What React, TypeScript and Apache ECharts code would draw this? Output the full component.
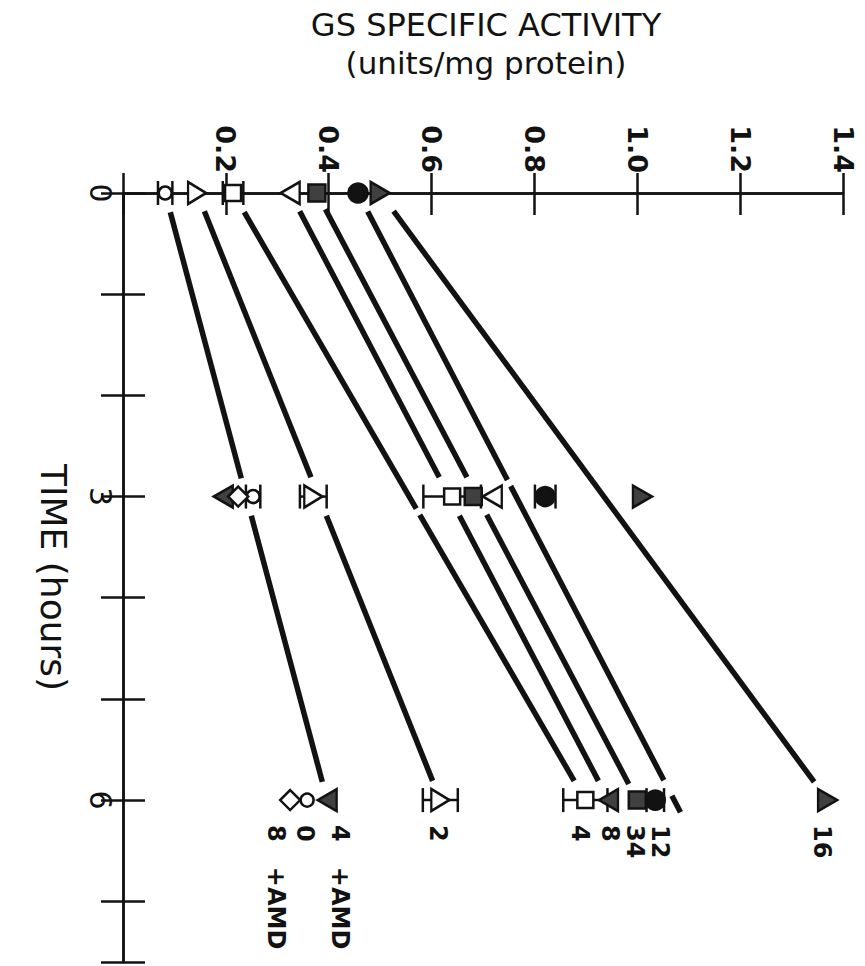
import { useEffect, useRef } from "react";
import * as echarts from "echarts";

// Sampling times (hours)
const hours = [0, 3, 6];

// Culture labels printed beside the 6 h points
const groupLabels = ["16", "12", "34", "8", "4", "2", "0", "4   +AMD", "8   +AMD"];

// GS specific activity (units/mg protein) at 0, 3 and 6 h
const gs16 = [0.5, 1.01, 1.37];
const gs12 = [0.457, 0.821, 1.035];
const gs34 = [0.377, 0.681, 1.0];
const gs8 = [0.325, 0.718, 0.944];
const gs4 = [0.214, 0.64, 0.899];
const gs2 = [0.144, 0.37, 0.617];
const gs0 = [0.082, 0.253, 0.358];
const gs4Amd = [null, 0.195, 0.397];
const gs8Amd = [null, 0.224, 0.325];

// Half-width of the error bars (0 = none drawn)
const sem12 = [0, 0.02, 0.017];
const sem4 = [0.02, 0.056, 0.043];
const sem2 = [0, 0.026, 0.034];
const sem0 = [0.014, 0.014, 0];

// Straight trend lines: activity at 0 h and at the end hour
const trendFrom = [0.5, 0.457, 0.377, 0.325, 0.214, 0.144, 0.082];
const trendTo = [1.37, 1.084, 1.0, 0.944, 0.899, 0.617, 0.397];
const trendToHour = [6, 6.12, 6, 6, 6, 6, 6];

const INK = "#121212";
const GREY = "#404040";
const FONT = "DejaVu Sans";

type Group = {
  values: (number | null)[];
  sem?: number[];
  symbol: string;
  rotate: number;
  size: number | number[];
  filled: boolean[];
  labelShift: number;
};

const groups: Group[] = [
  { values: gs16, symbol: "triangle", rotate: -90, size: [22, 19], filled: [true, true, true], labelShift: -6 },
  { values: gs12, sem: sem12, symbol: "circle", rotate: 0, size: 19, filled: [true, true, true], labelShift: 5 },
  { values: gs34, symbol: "rect", rotate: 0, size: 17, filled: [true, true, true], labelShift: -2 },
  { values: gs8, symbol: "triangle", rotate: 90, size: [22, 19], filled: [false, false, true], labelShift: 2 },
  { values: gs4, sem: sem4, symbol: "rect", rotate: 0, size: 16, filled: [false, false, false], labelShift: -5 },
  { values: gs2, sem: sem2, symbol: "triangle", rotate: -90, size: [22, 18], filled: [false, false, false], labelShift: -2 },
  { values: gs0, sem: sem0, symbol: "circle", rotate: 0, size: 13, filled: [false, false, false], labelShift: -2 },
  { values: gs4Amd, symbol: "triangle", rotate: 90, size: [22, 19], filled: [true, true, true], labelShift: 13 },
  { values: gs8Amd, symbol: "diamond", rotate: 0, size: 20, filled: [false, false, false], labelShift: -14 },
];

const CLEAR = 7; // white space left between a trend line and any symbol
const CAP = 12; // half height of the error-bar caps

function halfSize(g: Group) {
  return (Array.isArray(g.size) ? Math.max(...g.size) : g.size) / 2;
}

// Rectangles (in pixels) occupied by symbols and error bars
function obstacleBoxes(api: any) {
  const boxes: number[][] = [];
  groups.forEach((g) => {
    const r = halfSize(g);
    g.values.forEach((v, k) => {
      if (v == null) return;
      const c = api.coord([v, hours[k]]);
      boxes.push([c[0] - r, c[0] + r, c[1] - r, c[1] + r]);
      const e = g.sem ? g.sem[k] : 0;
      if (e > 0) {
        const a = api.coord([v - e, hours[k]])[0];
        const b = api.coord([v + e, hours[k]])[0];
        boxes.push([a, b, c[1] - CAP, c[1] + CAP]);
      }
    });
  });
  return boxes;
}

function trendRender(_params: any, api: any) {
  const p0 = api.coord([api.value(0), api.value(1)]);
  const p1 = api.coord([api.value(2), api.value(3)]);
  const boxes = obstacleBoxes(api);
  const N = 600;
  const free: boolean[] = [];
  for (let i = 0; i <= N; i++) {
    const s = i / N;
    const x = p0[0] + (p1[0] - p0[0]) * s;
    const y = p0[1] + (p1[1] - p0[1]) * s;
    let ok = true;
    for (const b of boxes) {
      const dx = Math.max(b[0] - x, 0, x - b[1]);
      const dy = Math.max(b[2] - y, 0, y - b[3]);
      if (dx * dx + dy * dy < CLEAR * CLEAR) {
        ok = false;
        break;
      }
    }
    free.push(ok);
  }
  const children: any[] = [];
  let start = -1;
  for (let i = 0; i <= N + 1; i++) {
    const ok = i <= N && free[i];
    if (ok && start < 0) start = i;
    if (!ok && start >= 0) {
      const s0 = start / N;
      const s1 = (i - 1) / N;
      if (s1 - s0 > 0.01) {
        children.push({
          type: "line",
          shape: {
            x1: p0[0] + (p1[0] - p0[0]) * s0,
            y1: p0[1] + (p1[1] - p0[1]) * s0,
            x2: p0[0] + (p1[0] - p0[0]) * s1,
            y2: p0[1] + (p1[1] - p0[1]) * s1,
          },
          style: { stroke: INK, lineWidth: 5.5, lineCap: "butt" },
        });
      }
      start = -1;
    }
  }
  return { type: "group", children };
}

function errorRender(_params: any, api: any) {
  const v = api.value(0);
  const h = api.value(1);
  const e = api.value(2);
  const a = api.coord([v - e, h]);
  const b = api.coord([v + e, h]);
  const st = { stroke: INK, lineWidth: 2.5 };
  return {
    type: "group",
    children: [
      { type: "line", shape: { x1: a[0], y1: a[1], x2: b[0], y2: b[1] }, style: st },
      { type: "line", shape: { x1: a[0], y1: a[1] - CAP, x2: a[0], y2: a[1] + CAP }, style: st },
      { type: "line", shape: { x1: b[0], y1: b[1] - CAP, x2: b[0], y2: b[1] + CAP }, style: st },
    ],
  };
}

function labelRender(_params: any, api: any) {
  const idx = api.value(2);
  const p = api.coord([api.value(0), api.value(1)]);
  return {
    type: "text",
    x: p[0] + groups[idx].labelShift,
    y: p[1] + 25,
    rotation: -Math.PI / 2,
    style: {
      text: groupLabels[idx],
      fill: INK,
      font: `bold 24px "${FONT}"`,
      align: "left",
      verticalAlign: "middle",
    },
  };
}

function buildOption() {
  const markerSeries = groups.map((g, gi) => ({
    type: "scatter",
    name: groupLabels[gi],
    z: 5,
    clip: false,
    symbol: g.symbol,
    symbolSize: g.size,
    symbolRotate: g.rotate,
    data: g.values
      .map((v, k) =>
        v == null
          ? null
          : {
              value: [v, hours[k]],
              itemStyle: {
                color: g.filled[k] ? (g.symbol === "circle" ? INK : GREY) : "#ffffff",
                borderColor: INK,
                borderWidth: 2.5,
                opacity: 1,
              },
            }
      )
      .filter((d) => d !== null),
  }));

  const errorData: number[][] = [];
  groups.forEach((g) => {
    if (!g.sem) return;
    g.values.forEach((v, k) => {
      if (v != null && g.sem![k] > 0) errorData.push([v, hours[k], g.sem![k]]);
    });
  });

  const labelData: number[][] = groups.map((g, gi) => [g.values[2] as number, hours[2], gi]);

  const axisLine = { show: true, lineStyle: { color: INK, width: 2.5 } };
  const tickStyle = { color: INK, width: 2.5 };

  return {
    animation: false,
    backgroundColor: "#ffffff",
    title: {
      text: "GS SPECIFIC ACTIVITY",
      subtext: "(units/mg protein)",
      left: 481,
      top: 4,
      textAlign: "center",
      itemGap: 6,
      textStyle: { fontFamily: FONT, fontSize: 32, fontWeight: "normal", color: INK },
      subtextStyle: { fontFamily: FONT, fontSize: 31, color: INK },
    },
    grid: { left: 123, right: 22, top: 193, bottom: 4, containLabel: false },
    xAxis: [
      {
        type: "value",
        position: "top",
        min: 0,
        max: 1.4,
        interval: 0.2,
        axisLine,
        axisTick: { inside: true, length: 22, lineStyle: tickStyle },
        splitLine: { show: false },
        axisLabel: {
          rotate: -90,
          margin: 20,
          fontSize: 27,
          fontWeight: "bold",
          fontFamily: FONT,
          color: INK,
          formatter: (v: number) => (v === 0 ? "" : v.toFixed(1)),
        },
      },
      {
        type: "value",
        position: "bottom",
        min: 0,
        max: 1.4,
        interval: 0.2,
        axisLine,
        axisTick: { inside: true, length: 20, lineStyle: tickStyle },
        splitLine: { show: false },
        axisLabel: { show: false },
      },
    ],
    yAxis: [
      {
        type: "value",
        position: "left",
        inverse: true,
        min: 0,
        max: 7.6,
        interval: 1,
        axisLine,
        axisTick: { inside: true, length: 22, lineStyle: tickStyle },
        splitLine: { show: false },
        axisLabel: {
          rotate: -90,
          margin: 8,
          fontSize: 30,
          fontFamily: FONT,
          color: INK,
          formatter: (v: number) => (Math.abs(v % 3) < 1e-9 ? String(v) : ""),
        },
        name: "TIME (hours)",
        nameLocation: "middle",
        nameRotate: -90,
        nameGap: 52,
        nameTextStyle: { fontFamily: FONT, fontSize: 36, color: INK },
      },
      {
        type: "value",
        position: "right",
        inverse: true,
        min: 0,
        max: 7.6,
        interval: 1,
        axisLine,
        axisTick: { inside: true, length: 22, lineStyle: tickStyle },
        splitLine: { show: false },
        axisLabel: { show: false },
      },
    ],
    series: [
      {
        type: "custom",
        name: "trend",
        z: 3,
        clip: false,
        renderItem: trendRender,
        encode: { x: [0, 2], y: [1, 3] },
        data: trendFrom.map((v, i) => [v, 0, trendTo[i], trendToHour[i]]),
      },
      {
        type: "custom",
        name: "error",
        z: 4,
        clip: false,
        renderItem: errorRender,
        encode: { x: 0, y: 1 },
        data: errorData,
      },
      ...markerSeries,
      {
        type: "custom",
        name: "labels",
        z: 6,
        clip: false,
        renderItem: labelRender,
        encode: { x: 0, y: 1 },
        data: labelData,
      },
    ],
  };
}

export default function App() {
  const ref = useRef<HTMLDivElement>(null);
  useEffect(() => {
    if (!ref.current) return;
    const chart = echarts.init(ref.current, undefined, { renderer: "svg" });
    chart.setOption(buildOption() as any);
    return () => chart.dispose();
  }, []);
  return (
    <div
      ref={ref}
      style={{ position: "fixed", left: 0, top: 0, width: 865, height: 966, background: "#fff" }}
    />
  );
}
